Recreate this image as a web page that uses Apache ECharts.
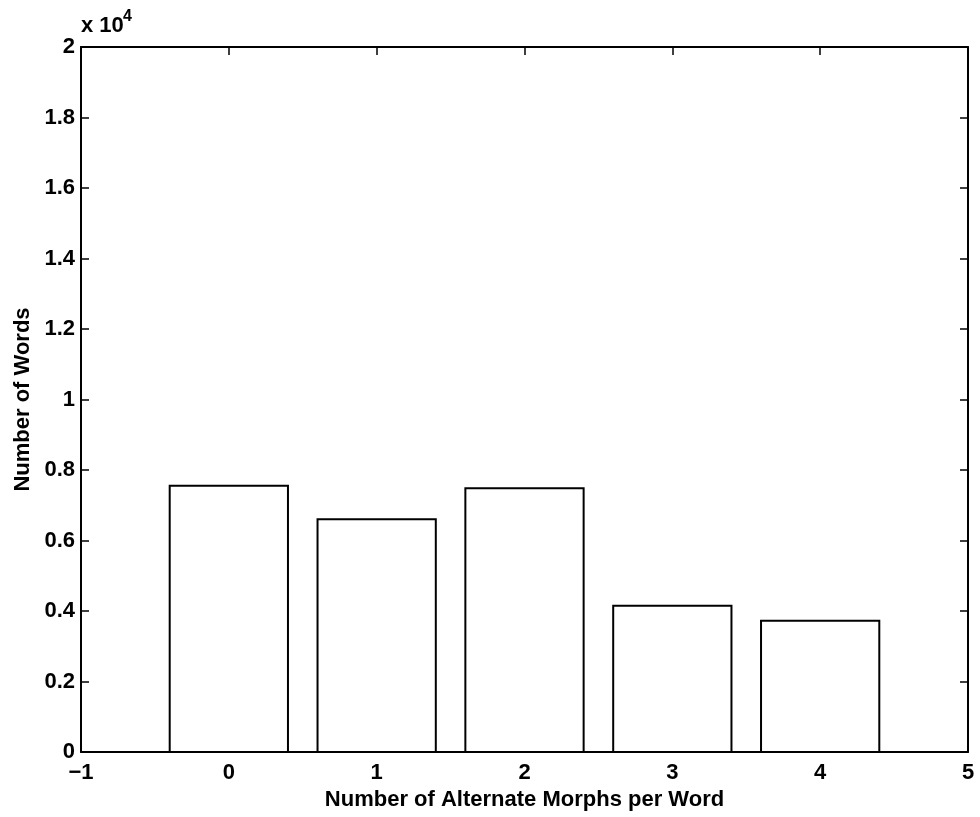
<!DOCTYPE html>
<html>
<head>
<meta charset="utf-8">
<script src="https://cdn.jsdelivr.net/npm/echarts@6/dist/echarts.min.js"></script>
<style>html,body{margin:0;padding:0;background:#fff}#c{width:980px;height:817px}</style>
</head>
<body>
<div id="c"></div>
<script>
const categories = [0, 1, 2, 3, 4];
const counts = [7550, 6600, 7480, 4150, 3720];
const xTicks = [-1, 0, 1, 2, 3, 4, 5];
const yTicks = [0, 0.2, 0.4, 0.6, 0.8, 1, 1.2, 1.4, 1.6, 1.8, 2];
const barHalfWidth = 0.4;

const FONT = '"Liberation Sans", Arial, Helvetica, sans-serif';
const chart = echarts.init(document.getElementById('c'), null, {renderer: 'canvas'});

function axisCommon() {
  return {
    axisLine: {show: true, onZero: false, lineStyle: {color: '#000', width: 2}},
    axisTick: {show: true, inside: true, length: 8, lineStyle: {color: '#000', width: 1.5}},
    splitLine: {show: false}
  };
}

chart.setOption({
  animation: false,
  backgroundColor: '#fff',
  grid: {left: 81, right: 12, top: 47, bottom: 65, containLabel: false},
  xAxis: [
    Object.assign({
      type: 'value', min: xTicks[0], max: xTicks[xTicks.length - 1], interval: 1,
      position: 'bottom',
      name: 'Number of Alternate Morphs per Word', nameLocation: 'middle', nameGap: 36,
      nameTextStyle: {fontFamily: FONT, fontSize: 22, fontWeight: 'bold', color: '#000'},
      axisLabel: {fontFamily: FONT, fontSize: 22, fontWeight: 'bold', color: '#000', margin: 10,
        formatter: v => (v < 0 ? '\u2212' + Math.abs(v) : String(v))}
    }, axisCommon()),
    Object.assign({
      type: 'value', min: xTicks[0], max: xTicks[xTicks.length - 1], interval: 1,
      position: 'top', axisLabel: {show: false}
    }, axisCommon())
  ],
  yAxis: [
    Object.assign({
      type: 'value', min: 0, max: yTicks[yTicks.length - 1] * 10000, interval: 2000,
      position: 'left',
      name: 'Number of Words', nameLocation: 'middle', nameGap: 47,
      nameTextStyle: {fontFamily: FONT, fontSize: 22, fontWeight: 'bold', color: '#000'},
      axisLabel: {fontFamily: FONT, fontSize: 22, fontWeight: 'bold', color: '#000', margin: 6,
        formatter: v => String(Math.round(v / 1000) / 10)}
    }, axisCommon()),
    Object.assign({
      type: 'value', min: 0, max: yTicks[yTicks.length - 1] * 10000, interval: 2000,
      position: 'right', axisLabel: {show: false}
    }, axisCommon())
  ],
  graphic: [
    {type: 'text', left: 81, top: 15, z: 10,
      style: {text: 'x 10', font: 'bold 22px ' + FONT, fill: '#000'}},
    {type: 'text', left: 123, top: 9, z: 10,
      style: {text: '4', font: 'bold 16px ' + FONT, fill: '#000'}}
  ],
  series: [{
    type: 'custom',
    xAxisIndex: 0, yAxisIndex: 0,
    data: categories.map((c, i) => [c, counts[i]]),
    renderItem: function (params, api) {
      const x = api.value(0), y = api.value(1);
      const p0 = api.coord([x - barHalfWidth, y]);
      const p1 = api.coord([x + barHalfWidth, 0]);
      return {
        type: 'rect',
        shape: {x: p0[0], y: p0[1], width: p1[0] - p0[0], height: p1[1] - p0[1]},
        style: {fill: '#fff', stroke: '#000', lineWidth: 2}
      };
    },
    z: 1
  }]
});
</script>
</body>
</html>
